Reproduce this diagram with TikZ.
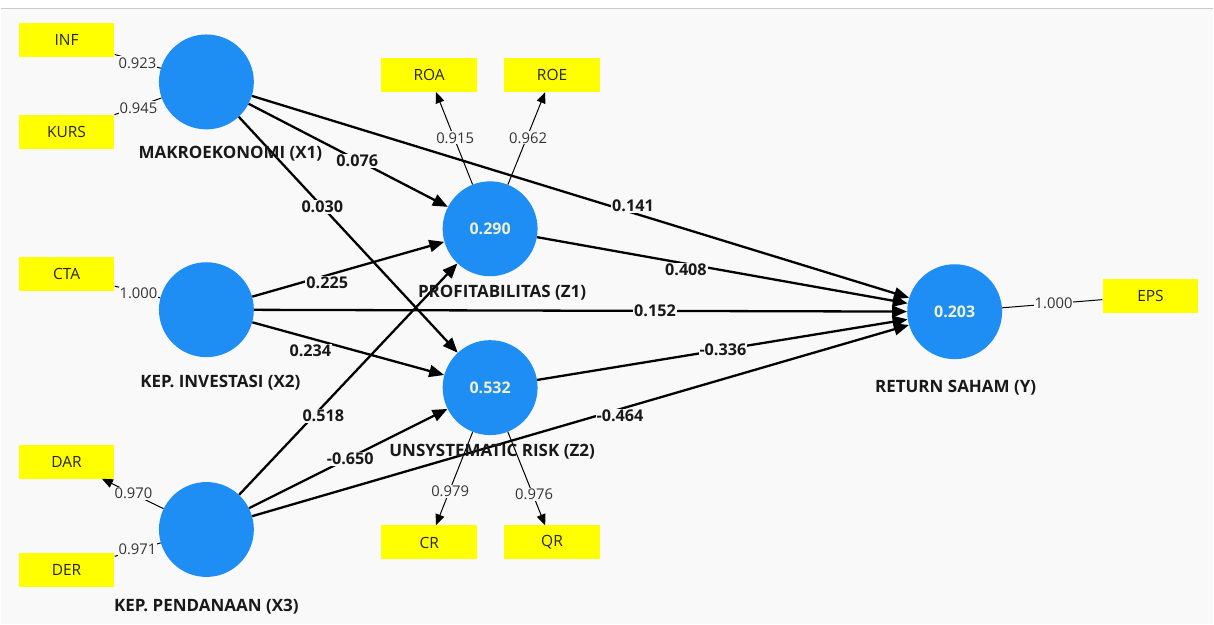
\documentclass[tikz,border=0pt]{standalone}
\usepackage{fontspec}
\setmainfont{Open Sans}
\usetikzlibrary{arrows.meta}

\definecolor{lvblue}{RGB}{30,142,245}
\definecolor{mvyellow}{RGB}{255,255,0}
\definecolor{bggray}{RGB}{249,249,249}
\definecolor{lvtext}{RGB}{238,240,200}

\begin{document}
\begin{tikzpicture}[x=1pt,y=-1pt,
  lv/.style={circle,fill=lvblue,minimum size=95pt,inner sep=0pt,text=lvtext,
    font=\fontsize{16}{19}\selectfont\bfseries},
  mv/.style={rectangle,fill=mvyellow,minimum width=96pt,minimum height=34pt,
    inner sep=0pt,text=black!85,font=\fontsize{15.5}{18}\selectfont},
  lvname/.style={font=\fontsize{17}{20}\selectfont\bfseries,text=black!90},
  relation/.style={line width=2.3pt,-{Triangle[length=15pt,width=12pt]}},
  loading/.style={line width=1pt},
  loadarrow/.style={loading,-{Triangle[length=11pt,width=9pt]}},
  coef/.style={fill=bggray,inner sep=1pt,text=black!90,
    font=\fontsize{16.2}{19}\selectfont\bfseries},
  ldg/.style={fill=bggray,inner sep=1pt,text=black!80,
    font=\fontsize{14.8}{17}\selectfont}]

  % background
  \fill[white] (0,0) rectangle (1214,625);
  \fill[bggray] (0,9) rectangle (1214,625);
  \draw[black!20,line width=1.2pt] (0,8.5) -- (1214,8.5);
  \useasboundingbox (0,0) rectangle (1214,625);

  % latent variables
  \node[lv] (x1) at (206,82) {};
  \node[lv] (x2) at (206,310) {};
  \node[lv] (x3) at (206,530) {};
  \node[lv] (z1) at (490,229) {0.290};
  \node[lv] (z2) at (490,388) {0.532};
  \node[lv] (y) at (955,312) {0.203};

  % indicators
  \node[mv] (inf) at (66,40) {INF};
  \node[mv] (kurs) at (66,132) {KURS};
  \node[mv] (cta) at (66,274) {CTA};
  \node[mv] (dar) at (66,462) {DAR};
  \node[mv] (der) at (66,571) {DER};
  \node[mv] (roa) at (429,75) {ROA};
  \node[mv] (roe) at (552,75) {ROE};
  \node[mv] (cr) at (429,543) {CR};
  \node[mv] (qr) at (552,543) {QR};
  \node[mv] (eps) at (1151,296) {EPS};

  % outer loadings
  \draw[loading] (x1) -- (inf);
  \draw[loading] (x1) -- (kurs);
  \draw[loading] (x2) -- (cta);
  \draw[loadarrow] (x3) -- (dar);
  \draw[loading] (x3) -- (der);
  \draw[loadarrow] (z1) -- (roa);
  \draw[loadarrow] (z1) -- (roe);
  \draw[loadarrow] (z2) -- (cr);
  \draw[loadarrow] (z2) -- (qr);
  \draw[loading] (y) -- (eps);

  % inner model
  \draw[relation] (x1) -- (z1);
  \draw[relation] (x1) -- (z2);
  \draw[relation] (x1) -- (y);
  \draw[relation] (x2) -- (z1);
  \draw[relation] (x2) -- (z2);
  \draw[relation] (x2) -- (y);
  \draw[relation] (x3) -- (z1);
  \draw[relation] (x3) -- (z2);
  \draw[relation] (x3) -- (y);
  \draw[relation] (z1) -- (y);
  \draw[relation] (z2) -- (y);

  % loading values
  \node[ldg] (l1) at (137,63) {0.923};
  \node[ldg] (l2) at (138,108) {0.945};
  \node[ldg] (l3) at (138,294) {1.000};
  \node[ldg] (l4) at (133,494) {0.970};
  \node[ldg] (l5) at (137,550) {0.971};
  \node[ldg] (l6) at (455,138) {0.915};
  \node[ldg] (l7) at (528,138) {0.962};
  \node[ldg] (l8) at (450,492) {0.979};
  \node[ldg] (l9) at (534,495) {0.976};
  \node[ldg] (l10) at (1054,304) {1.000};

  % path coefficients
  \node[coef] (c1) at (357,161) {0.076};
  \node[coef] (c2) at (322,207) {0.030};
  \node[coef] (c3) at (633,206) {0.141};
  \node[coef] (c4) at (327,283) {0.225};
  \node[coef] (c5) at (310,351) {0.234};
  \node[coef] (c6) at (655,311) {0.152};
  \node[coef] (c7) at (323,416) {0.518};
  \node[coef] (c8) at (350,459) {-0.650};
  \node[coef] (c9) at (620,416) {-0.464};
  \node[coef] (c10) at (686,270) {0.408};
  \node[coef] (c11) at (723,350) {-0.336};

  % construct names
  \node[lvname] (n1) at (230,154) {MAKROEKONOMI (X1)};
  \node[lvname] (n2) at (220,383) {KEP. INVESTASI (X2)};
  \node[lvname] (n3) at (206,607) {KEP. PENDANAAN (X3)};
  \node[lvname] (n4) at (502,293) {PROFITABILITAS (Z1)};
  \node[lvname] (n5) at (492,452) {UNSYSTEMATIC RISK (Z2)};
  \node[lvname] (n6) at (956,388) {RETURN SAHAM (Y)};
\end{tikzpicture}
\end{document}
